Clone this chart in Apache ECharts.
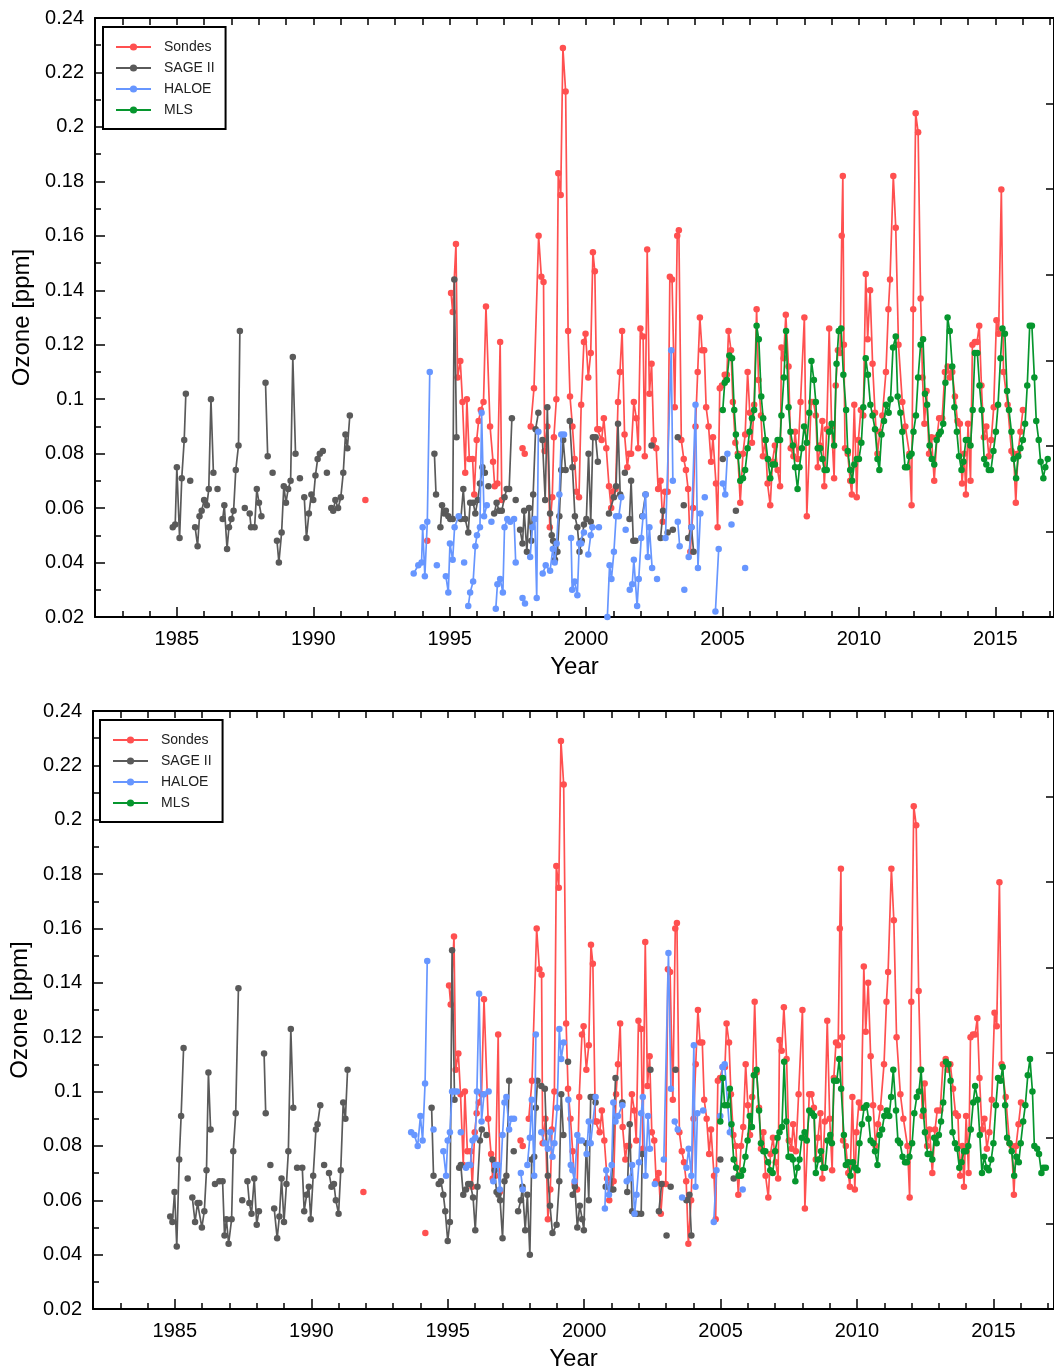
<!DOCTYPE html>
<html>
<head>
<meta charset="utf-8">
<script src="https://cdn.jsdelivr.net/npm/echarts@6/dist/echarts.min.js"></script>
<style>
html,body{margin:0;padding:0;background:#fff;}
#chart{width:1054px;height:1372px;}
</style>
</head>
<body>
<div id="chart"></div>
<script>
// ---------- data (year, ozone ppm); null = gap in the line ----------
const seriesNames = ['Sondes', 'SAGE II', 'HALOE', 'MLS'];
const majorYears = [1985, 1990, 1995, 2000, 2005, 2010, 2015];

const sondes = [
[1991.91,0.063], null,
[1994.18,0.048], null,
[1995.05,0.139],[1995.11,0.132],[1995.23,0.157],[1995.29,0.108],[1995.39,0.114],[1995.47,0.099],[1995.57,0.073],[1995.63,0.100],[1995.72,0.078],[1995.84,0.078],[1995.90,0.065],[1995.99,0.085],[1996.06,0.092],[1996.14,0.096],[1996.24,0.099],[1996.33,0.134],[1996.48,0.090],[1996.59,0.077],[1996.65,0.068],[1996.75,0.069],[1996.85,0.121],[1996.91,0.063], null,
[1997.67,0.082],[1997.75,0.080], null,
[1997.97,0.090],[1998.09,0.104],[1998.26,0.160],[1998.36,0.145],[1998.44,0.143],[1998.48,0.081],[1998.58,0.090],[1998.67,0.053],[1998.76,0.064],[1998.82,0.086],[1998.91,0.100],[1998.98,0.183],[1999.07,0.175],[1999.15,0.229],[1999.25,0.213],[1999.34,0.125],[1999.41,0.101],[1999.50,0.090],[1999.58,0.078],[1999.65,0.066],[1999.74,0.064],[1999.82,0.098],[1999.92,0.121],[1999.98,0.124],[2000.08,0.108],[2000.17,0.117],[2000.25,0.154],[2000.32,0.147],[2000.41,0.089],
[2000.47,0.089],[2000.57,0.085],[2000.65,0.093],[2000.74,0.082],[2000.84,0.068],[2000.92,0.060],[2000.98,0.066],[2001.08,0.067],[2001.17,0.099],[2001.24,0.110],[2001.32,0.125],[2001.41,0.087],[2001.51,0.075],[2001.57,0.080],[2001.65,0.080],[2001.75,0.099],[2001.84,0.093],[2001.91,0.082],[2001.99,0.126],[2002.09,0.123],[2002.15,0.079],[2002.24,0.155],[2002.32,0.102],[2002.40,0.113],[2002.48,0.085],[2002.57,0.082],[2002.64,0.067],[2002.73,0.070],[2002.81,0.055],[2002.89,0.066],[2002.99,0.066],[2003.07,0.145],[2003.15,0.144],[2003.25,0.097],[2003.34,0.160],[2003.40,0.162],[2003.49,0.085],[2003.58,0.078],[2003.66,0.074],[2003.74,0.067],[2003.82,0.044],[2003.92,0.060],[2004.01,0.090],[2004.09,0.110],[2004.17,0.130],[2004.25,0.118],[2004.33,0.118],[2004.40,0.097],[2004.49,0.090],[2004.58,0.077],[2004.65,0.086],[2004.76,0.069],[2004.82,0.053],[2004.90,0.104],[2004.98,0.105],[2005.08,0.109],[2005.16,0.109],[2005.22,0.125],[2005.31,0.118],[2005.38,0.099],[2005.47,0.084],[2005.56,0.080],[2005.65,0.062],[2005.75,0.080],[2005.83,0.087],[2005.92,0.110],[2006.00,0.095],[2006.08,0.084],[2006.16,0.098],[2006.25,0.133],[2006.32,0.107],[2006.41,0.094],[2006.48,0.079],[2006.57,0.085],[2006.65,0.069],[2006.75,0.061],[2006.83,0.077],[2006.92,0.083],[2007.02,0.074],[2007.11,0.068],[2007.16,0.119],[2007.24,0.115],[2007.32,0.131],[2007.42,0.112],[2007.50,0.082],[2007.60,0.079],[2007.66,0.088],[2007.76,0.078],[2007.86,0.099],[2008.00,0.130],[2008.09,0.057],
[2008.25,0.099],[2008.33,0.099],[2008.42,0.094],[2008.49,0.075],[2008.57,0.083],[2008.66,0.092],[2008.73,0.068],[2008.82,0.089],[2008.91,0.126],[2009.00,0.090],[2009.09,0.071],[2009.15,0.105],[2009.23,0.118],[2009.31,0.117],[2009.37,0.160],[2009.41,0.182],[2009.45,0.120],[2009.49,0.082],[2009.59,0.080],[2009.68,0.070],[2009.74,0.065],[2009.83,0.098],[2009.92,0.064],[2009.98,0.085],[2010.07,0.096],[2010.16,0.094],[2010.25,0.146],[2010.32,0.122],[2010.41,0.140],[2010.50,0.113],[2010.59,0.095],[2010.68,0.080],[2010.77,0.088],[2010.86,0.094],[2010.99,0.110],[2011.08,0.133],[2011.14,0.144],[2011.26,0.182],[2011.35,0.163],[2011.45,0.120],[2011.59,0.099],[2011.70,0.090],[2011.85,0.080],[2011.93,0.061],[2011.99,0.133],[2012.08,0.205],[2012.17,0.198],[2012.26,0.137],[2012.33,0.108],[2012.40,0.091],[2012.48,0.103],[2012.57,0.080],[2012.66,0.086],[2012.76,0.070],[2012.86,0.086],[2012.94,0.093],[2013.05,0.093],[2013.15,0.110],[2013.25,0.112],[2013.33,0.108],[2013.42,0.110],[2013.52,0.101],[2013.61,0.092],[2013.70,0.091],[2013.78,0.069],[2013.86,0.080],[2013.92,0.065],[2014.00,0.091],[2014.09,0.070],[2014.16,0.120],[2014.25,0.121],[2014.33,0.121],[2014.41,0.127],[2014.49,0.105],[2014.58,0.086],[2014.67,0.090],[2014.76,0.079],[2014.85,0.085],[2014.94,0.097],[2015.04,0.129],[2015.12,0.124],[2015.22,0.177],[2015.30,0.110],[2015.45,0.098],[2015.59,0.081],[2015.67,0.080],[2015.75,0.062],[2015.83,0.080],[2015.92,0.088],[2016.01,0.096]
];

const sageTop = [
[1984.85,0.053],[1984.94,0.054],[1985.00,0.075],[1985.10,0.049],[1985.18,0.071],[1985.27,0.085],[1985.33,0.102], null,
[1985.49,0.070], null,
[1985.67,0.053],[1985.76,0.046],[1985.83,0.057],[1985.91,0.059],[1986.00,0.063],[1986.10,0.061],[1986.17,0.067],[1986.25,0.100],[1986.34,0.073], null,
[1986.49,0.067], null,
[1986.68,0.056],[1986.74,0.061],[1986.84,0.045],[1986.91,0.053],[1987.00,0.056],[1987.08,0.059],[1987.16,0.074],[1987.26,0.083],[1987.31,0.125], null,
[1987.49,0.060], null,
[1987.67,0.058],[1987.72,0.053],[1987.85,0.053],[1987.93,0.067],[1988.01,0.062],[1988.10,0.057], null,
[1988.25,0.106],[1988.33,0.079], null,
[1988.51,0.073], null,
[1988.67,0.048],[1988.74,0.040],[1988.84,0.051],[1988.92,0.068],[1989.00,0.062],[1989.08,0.067],[1989.17,0.070],[1989.25,0.1155],[1989.35,0.080], null,
[1989.51,0.071], null,
[1989.67,0.064],[1989.75,0.049],[1989.84,0.058],[1989.93,0.065],[1990.00,0.063],[1990.08,0.072],[1990.16,0.078],[1990.24,0.080],[1990.35,0.081], null,
[1990.50,0.073], null,
[1990.66,0.060],[1990.73,0.059],[1990.81,0.063],[1990.91,0.060],[1991.01,0.064],[1991.10,0.073],[1991.18,0.087],[1991.25,0.082],[1991.34,0.094], null,
[1994.44,0.080],[1994.50,0.065], null,
[1994.66,0.053],[1994.72,0.061],[1994.80,0.058],[1994.86,0.059],[1994.95,0.057],[1995.02,0.056],[1995.11,0.056],[1995.17,0.144],[1995.25,0.086], null,
[1995.41,0.056],[1995.50,0.067],[1995.57,0.056],[1995.68,0.051],[1995.75,0.062],[1995.86,0.062],[1995.94,0.058],[1996.03,0.063],[1996.11,0.069],[1996.20,0.075],[1996.29,0.073], null,
[1996.42,0.068], null,
[1996.63,0.058],[1996.72,0.062],[1996.81,0.059],[1996.91,0.059],[1997.01,0.064],[1997.09,0.067],[1997.18,0.067],[1997.28,0.093], null,
[1997.42,0.063], null,
[1997.58,0.052],[1997.67,0.047],[1997.73,0.059],[1997.83,0.044],[1997.91,0.060],[1997.99,0.048],[1998.06,0.065],[1998.15,0.089],[1998.25,0.095], null,
[1998.40,0.085],[1998.50,0.063],[1998.58,0.097],[1998.68,0.058],[1998.74,0.050],[1998.79,0.048],[1998.86,0.041],[1998.95,0.044],[1999.02,0.057],[1999.09,0.074],[1999.16,0.085],[1999.25,0.074], null,
[1999.40,0.092],[1999.50,0.075],[1999.59,0.057],[1999.68,0.053],[1999.76,0.044],[1999.84,0.048],[1999.92,0.054],[2000.01,0.056],[2000.09,0.080],[2000.17,0.055],[2000.25,0.086],[2000.35,0.086],[2000.43,0.077], null,
[2000.84,0.058],[2001.02,0.064],[2001.10,0.068],[2001.17,0.091],[2001.25,0.065], null,
[2001.42,0.073], null,
[2001.59,0.056],[2001.65,0.070],[2001.73,0.048],[2001.81,0.048], null,
[2002.06,0.057],[2002.18,0.065], null,
[2002.40,0.083], null,
[2002.73,0.049],[2002.82,0.059], null,
[2002.99,0.051], null,
[2003.18,0.052], null,
[2003.36,0.086], null,
[2003.58,0.061], null,
[2003.74,0.049],[2003.86,0.053],[2003.94,0.044], null,
[2005.01,0.078], null,
[2005.49,0.059]
];

const haloeTop = [
[1993.68,0.036],[1993.85,0.039],[1993.97,0.040],[1994.01,0.053],[1994.09,0.035],[1994.18,0.055],[1994.27,0.110], null,
[1994.53,0.039], null,
[1994.86,0.035],[1994.95,0.029],[1995.01,0.047],[1995.11,0.041],[1995.18,0.053],[1995.33,0.057], null,
[1995.53,0.040], null,
[1995.68,0.024],[1995.75,0.029],[1995.86,0.033],[1995.94,0.046],[1996.00,0.050],[1996.11,0.053],[1996.17,0.095],[1996.26,0.057],[1996.36,0.061], null,
[1996.53,0.055], null,
[1996.69,0.023],[1996.75,0.032],[1996.85,0.034],[1996.95,0.029],[1997.01,0.053],[1997.11,0.056],[1997.22,0.055],[1997.36,0.056],[1997.42,0.040], null,
[1997.67,0.027],[1997.76,0.025], null,
[1997.95,0.042],[1998.03,0.053],[1998.12,0.056],[1998.19,0.027],[1998.25,0.088], null,
[1998.41,0.036],[1998.52,0.039],[1998.68,0.037],[1998.78,0.045],[1998.85,0.040],[1998.92,0.047],[1999.02,0.065],[1999.09,0.087],[1999.19,0.087], null,
[1999.45,0.049],[1999.49,0.030],[1999.58,0.033],[1999.68,0.028],[1999.75,0.047],[1999.82,0.047],[1999.92,0.051], null,
[2000.08,0.043],[2000.17,0.050],[2000.23,0.053],[2000.47,0.053], null,
[2000.78,0.020],[2000.86,0.039],[2000.93,0.034],[2001.02,0.044],[2001.10,0.057],[2001.20,0.057],[2001.29,0.064], null,
[2001.45,0.052], null,
[2001.60,0.030],[2001.69,0.032],[2001.75,0.041],[2001.87,0.024],[2001.93,0.034],[2002.02,0.049],[2002.09,0.057],[2002.18,0.065],[2002.26,0.042],[2002.32,0.053],[2002.42,0.038], null,
[2002.60,0.034], null,
[2002.91,0.049],[2003.12,0.118],[2003.18,0.070], null,
[2003.36,0.055],[2003.43,0.046], null,
[2003.60,0.030], null,
[2003.76,0.042],[2003.86,0.053],[2004.01,0.098],[2004.10,0.038],[2004.19,0.058], null,
[2004.35,0.064], null,
[2004.74,0.022],[2004.86,0.045], null,
[2005.01,0.069],[2005.10,0.065],[2005.18,0.080], null,
[2005.33,0.054], null,
[2005.83,0.038]
];

const mlsTop = [
[2005.01,0.096],[2005.08,0.106],[2005.16,0.107],[2005.25,0.116],[2005.35,0.115],[2005.43,0.096],[2005.49,0.087],[2005.57,0.079],[2005.65,0.070],[2005.75,0.071],[2005.83,0.074],[2005.92,0.082],[2005.99,0.088],[2006.08,0.093],[2006.16,0.096],[2006.25,0.127],[2006.33,0.122],[2006.42,0.101],[2006.49,0.093],[2006.58,0.085],[2006.66,0.078],[2006.75,0.071],[2006.83,0.076],[2006.92,0.076],[2007.02,0.085],[2007.11,0.085],[2007.16,0.094],[2007.25,0.108],[2007.33,0.125],[2007.42,0.097],[2007.49,0.088],[2007.58,0.083],[2007.66,0.075],[2007.75,0.067],[2007.82,0.075],[2007.91,0.082],[2007.99,0.090],[2008.09,0.084],[2008.18,0.095],[2008.26,0.114],[2008.35,0.107],[2008.42,0.099],[2008.49,0.082],[2008.58,0.082],[2008.66,0.078],[2008.74,0.074],[2008.82,0.074],[2008.91,0.088],[2009.00,0.091],[2009.09,0.083],[2009.18,0.113],[2009.26,0.125],[2009.35,0.126],[2009.43,0.109],[2009.53,0.096],[2009.59,0.081],[2009.68,0.074],[2009.75,0.070],[2009.83,0.076],[2009.92,0.078],[2010.00,0.078],[2010.09,0.084],[2010.16,0.097],[2010.25,0.115],[2010.33,0.109],[2010.42,0.098],[2010.50,0.094],[2010.59,0.089],[2010.68,0.078],[2010.75,0.074],[2010.83,0.087],[2010.92,0.092],[2011.00,0.098],[2011.09,0.095],[2011.16,0.100],[2011.25,0.119],[2011.35,0.123],[2011.42,0.101],[2011.52,0.095],[2011.59,0.088],[2011.69,0.075],[2011.77,0.075],[2011.85,0.079],[2011.93,0.080],[2012.00,0.088],[2012.09,0.094],[2012.17,0.108],[2012.26,0.120],[2012.35,0.122],[2012.42,0.102],[2012.50,0.098],[2012.59,0.083],[2012.67,0.078],[2012.76,0.076],[2012.85,0.085],[2012.93,0.087],[2013.00,0.088],[2013.09,0.091],[2013.17,0.106],[2013.25,0.130],[2013.33,0.125],[2013.42,0.112],[2013.50,0.097],[2013.59,0.088],[2013.67,0.079],[2013.76,0.074],[2013.83,0.077],[2013.92,0.085],[2014.00,0.085],[2014.09,0.083],[2014.17,0.096],[2014.25,0.117],[2014.34,0.117],[2014.42,0.105],[2014.50,0.096],[2014.59,0.078],[2014.67,0.076],[2014.76,0.074],[2014.84,0.074],[2014.93,0.081],[2015.02,0.088],[2015.10,0.098],[2015.19,0.115],[2015.26,0.126],[2015.35,0.124],[2015.43,0.103],[2015.50,0.096],[2015.59,0.088],[2015.67,0.078],[2015.76,0.071],[2015.84,0.079],[2015.92,0.082],[2016.01,0.085],[2016.09,0.091],[2016.17,0.105],[2016.26,0.127],[2016.34,0.127],[2016.43,0.108],[2016.50,0.092],[2016.59,0.085],[2016.66,0.077],[2016.76,0.071],[2016.83,0.075],[2016.92,0.078]
];

const sageBottom = [
[1984.83,0.054],[1984.91,0.052],[1984.99,0.063],[1985.07,0.043],[1985.16,0.075],[1985.23,0.091],[1985.32,0.116], null,
[1985.47,0.068], null,
[1985.64,0.061],[1985.74,0.052],[1985.83,0.059],[1985.90,0.059],[1985.99,0.050],[1986.08,0.056],[1986.16,0.071],[1986.23,0.107],[1986.31,0.086], null,
[1986.47,0.066], null,
[1986.63,0.067],[1986.75,0.067],[1986.82,0.047],[1986.89,0.053],[1986.97,0.044],[1987.08,0.053],[1987.14,0.078],[1987.23,0.092],[1987.33,0.138], null,
[1987.47,0.060], null,
[1987.66,0.067],[1987.73,0.059],[1987.81,0.055],[1987.91,0.068],[1988.00,0.051],[1988.08,0.056], null,
[1988.27,0.114],[1988.33,0.092], null,
[1988.50,0.073], null,
[1988.64,0.057],[1988.75,0.046],[1988.83,0.054],[1988.91,0.068],[1989.00,0.052],[1989.09,0.066],[1989.16,0.078],[1989.25,0.123],[1989.34,0.094], null,
[1989.48,0.072],[1989.67,0.072],[1989.74,0.056],[1989.83,0.062],[1989.91,0.065],[1989.98,0.053],[1990.07,0.069],[1990.17,0.086],[1990.23,0.088],[1990.33,0.095], null,
[1990.47,0.073], null,
[1990.65,0.070],[1990.74,0.065],[1990.83,0.066],[1990.90,0.060],[1991.00,0.055],[1991.08,0.071],[1991.17,0.096],[1991.25,0.090],[1991.33,0.108], null,
[1994.41,0.094],[1994.48,0.069], null,
[1994.67,0.066],[1994.75,0.067],[1994.84,0.062],[1994.91,0.056],[1995.00,0.045],[1995.08,0.052],[1995.16,0.152],[1995.25,0.097], null,
[1995.42,0.072],[1995.48,0.073],[1995.57,0.062],[1995.67,0.064],[1995.75,0.066],[1995.83,0.066],[1995.93,0.061],[1996.01,0.049],[1996.09,0.065],[1996.18,0.082],[1996.25,0.086], null,
[1996.42,0.084], null,
[1996.64,0.075],[1996.72,0.071],[1996.79,0.063],[1996.86,0.062],[1996.92,0.060],[1997.01,0.046],[1997.08,0.067],[1997.15,0.069],[1997.25,0.104], null,
[1997.42,0.078], null,
[1997.58,0.056],[1997.68,0.060],[1997.74,0.065],[1997.84,0.049],[1997.92,0.062],[1998.01,0.040],[1998.08,0.075],[1998.17,0.076],[1998.23,0.094],[1998.29,0.104], null,
[1998.43,0.102],[1998.56,0.101],[1998.67,0.069],[1998.75,0.058],[1998.84,0.048],[1998.99,0.051],[1999.09,0.067],[1999.16,0.099],[1999.24,0.084], null,
[1999.41,0.111], null,
[1999.58,0.062],[1999.66,0.065],[1999.75,0.050],[1999.84,0.058],[1999.93,0.053],[1999.99,0.049],[2000.08,0.081],[2000.17,0.060],[2000.24,0.098],[2000.33,0.098],[2000.42,0.096], null,
[2000.79,0.065],[2001.00,0.064],[2001.07,0.064],[2001.15,0.105], null,
[2001.40,0.096], null,
[2001.58,0.063],[2001.67,0.088],[2001.76,0.056],[2001.85,0.055],[2001.95,0.055],[2002.09,0.055],[2002.13,0.077], null,
[2002.43,0.108], null,
[2002.74,0.056],[2002.84,0.066], null,
[2003.02,0.047], null,
[2003.17,0.065], null,
[2003.35,0.108], null,
[2003.75,0.060],[2003.86,0.062],[2003.93,0.047], null,
[2004.99,0.075], null,
[2005.48,0.068]
];

const haloeBottom = [
[1993.66,0.085],[1993.78,0.084],[1993.90,0.080],[1994.00,0.091],[1994.08,0.082],[1994.17,0.103],[1994.25,0.148], null,
[1994.48,0.086], null,
[1994.84,0.078],[1994.94,0.069],[1995.00,0.082],[1995.08,0.085],[1995.16,0.100],[1995.25,0.100],[1995.34,0.100], null,
[1995.48,0.085], null,
[1995.67,0.072],[1995.75,0.073],[1995.83,0.073],[1995.91,0.082],[1996.01,0.083],[1996.07,0.100],[1996.15,0.136],[1996.24,0.089],[1996.33,0.099],[1996.50,0.100], null,
[1996.67,0.067],[1996.74,0.073],[1996.83,0.073],[1996.91,0.064],[1997.01,0.084],[1997.08,0.096],[1997.15,0.098],[1997.25,0.086],[1997.33,0.090],[1997.43,0.090], null,
[1997.68,0.070],[1997.75,0.064], null,
[1997.92,0.073],[1998.01,0.083],[1998.08,0.097],[1998.17,0.069],[1998.23,0.121], null,
[1998.43,0.085],[1998.56,0.081],[1998.67,0.079],[1998.75,0.085],[1998.84,0.076],[1998.91,0.081],[1999.01,0.094],[1999.09,0.123],[1999.16,0.112],[1999.25,0.118], null,
[1999.42,0.097],[1999.51,0.073],[1999.57,0.071],[1999.65,0.067],[1999.75,0.084],[1999.82,0.082],[1999.92,0.082], null,
[2000.09,0.077],[2000.17,0.089],[2000.24,0.081],[2000.42,0.098], null,
[2000.76,0.057],[2000.81,0.071],[2000.91,0.062],[2001.01,0.073],[2001.07,0.096],[2001.15,0.089],[2001.24,0.091],[2001.40,0.095], null,
[2001.56,0.067],[2001.67,0.068],[2001.76,0.073],[2001.85,0.055],[2001.92,0.062],[2002.01,0.074],[2002.09,0.092],[2002.15,0.098],[2002.25,0.069],[2002.34,0.091],[2002.41,0.079], null,
[2002.59,0.066], null,
[2002.92,0.075],[2003.09,0.151],[2003.18,0.101], null,
[2003.32,0.089],[2003.43,0.086], null,
[2003.59,0.061], null,
[2003.75,0.072],[2003.83,0.079],[2003.93,0.069],[2004.02,0.117],[2004.08,0.065],[2004.15,0.092], null,
[2004.36,0.093], null,
[2004.75,0.052],[2004.85,0.071], null,
[2004.99,0.091],[2005.07,0.109],[2005.15,0.110],[2005.34,0.085], null,
[2005.81,0.064]
];

const mlsBottom = [
[2004.99,0.089],[2005.08,0.105],[2005.15,0.095],[2005.25,0.095],[2005.34,0.101],[2005.40,0.088],[2005.48,0.075],[2005.57,0.072],[2005.66,0.069],[2005.75,0.069],[2005.82,0.071],[2005.91,0.076],[2005.99,0.082],[2006.07,0.091],[2006.15,0.087],[2006.22,0.106],[2006.32,0.108],[2006.41,0.093],[2006.48,0.081],[2006.57,0.078],[2006.64,0.078],[2006.74,0.074],[2006.82,0.071],[2006.91,0.070],[2007.00,0.078],[2007.09,0.083],[2007.16,0.085],[2007.25,0.087],[2007.33,0.111],[2007.41,0.089],[2007.49,0.076],[2007.58,0.076],[2007.65,0.075],[2007.74,0.067],[2007.82,0.072],[2007.89,0.075],[2007.98,0.083],[2008.08,0.085],[2008.16,0.082],[2008.25,0.093],[2008.35,0.092],[2008.43,0.091],[2008.49,0.070],[2008.59,0.075],[2008.68,0.078],[2008.75,0.072],[2008.83,0.072],[2008.92,0.082],[2009.02,0.084],[2009.08,0.081],[2009.16,0.104],[2009.26,0.104],[2009.35,0.112],[2009.42,0.101],[2009.52,0.084],[2009.59,0.073],[2009.68,0.074],[2009.76,0.069],[2009.85,0.074],[2009.93,0.072],[2010.02,0.071],[2010.09,0.081],[2010.18,0.088],[2010.26,0.094],[2010.35,0.095],[2010.42,0.090],[2010.50,0.082],[2010.60,0.081],[2010.66,0.078],[2010.75,0.073],[2010.83,0.084],[2010.92,0.086],[2011.00,0.091],[2011.09,0.093],[2011.18,0.091],[2011.25,0.098],[2011.33,0.108],[2011.43,0.093],[2011.50,0.082],[2011.58,0.081],[2011.67,0.076],[2011.76,0.074],[2011.83,0.074],[2011.92,0.076],[2012.02,0.081],[2012.10,0.092],[2012.19,0.098],[2012.27,0.100],[2012.35,0.108],[2012.43,0.093],[2012.49,0.085],[2012.59,0.077],[2012.67,0.077],[2012.76,0.075],[2012.83,0.083],[2012.92,0.081],[2013.00,0.084],[2013.08,0.089],[2013.16,0.096],[2013.26,0.111],[2013.35,0.110],[2013.43,0.104],[2013.50,0.085],[2013.59,0.081],[2013.67,0.079],[2013.75,0.072],[2013.83,0.074],[2013.92,0.078],[2014.00,0.078],[2014.08,0.080],[2014.17,0.086],[2014.26,0.096],[2014.33,0.102],[2014.42,0.097],[2014.50,0.084],[2014.58,0.070],[2014.66,0.076],[2014.75,0.072],[2014.83,0.071],[2014.92,0.075],[2015.00,0.081],[2015.09,0.095],[2015.17,0.105],[2015.26,0.104],[2015.34,0.109],[2015.43,0.095],[2015.50,0.083],[2015.59,0.081],[2015.67,0.078],[2015.76,0.069],[2015.84,0.076],[2015.93,0.074],[2016.00,0.081],[2016.09,0.089],[2016.17,0.095],[2016.26,0.106],[2016.34,0.112],[2016.43,0.100],[2016.50,0.080],[2016.60,0.079],[2016.67,0.077],[2016.76,0.070],[2016.83,0.072],[2016.92,0.072]
];

// ---------- chart ----------
const colors = {'Sondes':'#ff5050','SAGE II':'#5a5a5a','HALOE':'#6796ff','MLS':'#06962e'};
const FONT = '"Liberation Sans", Arial, Helvetica, sans-serif';
const X_MIN = 1982;
const allYears = [];
for (let y = 1983; y <= 2017; y++) allYears.push(y);

const prep = arr => arr.map(p => p === null ? ['-', '-'] : p);

const panels = [
  {grid:{left:95, top:18, width:961, height:599}, xMax:2017.15, legendPos:{left:103, top:27}},
  {grid:{left:93, top:711, width:963, height:599}, xMax:2017.22, legendPos:{left:100, top:720}}
];
const panelData = [
  {'Sondes':sondes, 'SAGE II':sageTop, 'HALOE':haloeTop, 'MLS':mlsTop},
  {'Sondes':sondes, 'SAGE II':sageBottom, 'HALOE':haloeBottom, 'MLS':mlsBottom}
];

const option = {
  animation:false,
  backgroundColor:'#fff',
  textStyle:{fontFamily:FONT},
  grid:[], xAxis:[], yAxis:[], series:[], legend:[]
};

panels.forEach((p, i) => {
  option.grid.push(Object.assign({containLabel:false}, p.grid));
  const lineStyle = {color:'#000', width:2};
  // bottom axis with major ticks and labels
  option.xAxis.push({
    type:'value', gridIndex:i, position:'bottom', min:X_MIN, max:p.xMax,
    name:'Year', nameLocation:'middle', nameGap:38,
    nameTextStyle:{fontSize:24, color:'#000', fontFamily:FONT},
    axisLine:{show:true, onZero:false, lineStyle},
    axisTick:{show:true, inside:true, length:10, customValues:majorYears, lineStyle:{color:'#000', width:1.5}},
    axisLabel:{show:true, customValues:majorYears, fontSize:20, color:'#000', margin:12, fontFamily:FONT,
      formatter: v => String(Math.round(v))},
    splitLine:{show:false}
  });
  // bottom axis minor (every year)
  option.xAxis.push({
    type:'value', gridIndex:i, position:'bottom', min:X_MIN, max:p.xMax, interval:1,
    axisLine:{show:false}, axisLabel:{show:false}, splitLine:{show:false},
    axisTick:{show:true, inside:true, length:6, lineStyle:{color:'#000', width:1.5}}
  });
  // top frame axis
  option.xAxis.push({
    type:'value', gridIndex:i, position:'top', min:X_MIN, max:p.xMax,
    axisLine:{show:true, onZero:false, lineStyle}, axisLabel:{show:false}, splitLine:{show:false},
    axisTick:{show:true, inside:true, length:7, customValues:allYears, lineStyle:{color:'#000', width:1.5}}
  });
  // left y axis
  option.yAxis.push({
    type:'value', gridIndex:i, position:'left', min:0.02, max:0.24, interval:0.02,
    name:'Ozone [ppm]', nameLocation:'middle', nameGap:60,
    nameTextStyle:{fontSize:24, color:'#000', fontFamily:FONT},
    axisLine:{show:true, onZero:false, lineStyle},
    axisTick:{show:true, inside:true, length:10, lineStyle:{color:'#000', width:1.5}},
    minorTick:{show:true, splitNumber:2, length:6, lineStyle:{color:'#000', width:1.5}},
    axisLabel:{fontSize:20, color:'#000', margin:11, fontFamily:FONT,
      formatter: v => String(parseFloat(v.toFixed(2)))},
    splitLine:{show:false}
  });
  // right frame axis
  option.yAxis.push({
    type:'value', gridIndex:i, position:'right', min:0, max:7, interval:1,
    axisLine:{show:true, onZero:false, lineStyle},
    axisTick:{show:true, inside:true, length:8, lineStyle:{color:'#000', width:1.5}},
    axisLabel:{show:false}, splitLine:{show:false}
  });
  option.legend.push({
    orient:'vertical', left:p.legendPos.left, top:p.legendPos.top,
    data:seriesNames.slice(),
    backgroundColor:'#fff', borderColor:'#000', borderWidth:2, borderRadius:0,
    padding:[13, 11, 12, 12], itemGap:7, itemWidth:35, itemHeight:9,
    textStyle:{fontSize:14, color:'#222', fontFamily:FONT, lineHeight:14, padding:[0,0,0,8]},
    selectedMode:false
  });
  seriesNames.forEach(name => {
    option.series.push({
      name, type:'line', xAxisIndex:i*3, yAxisIndex:i*2,
      data:prep(panelData[i][name]),
      connectNulls:false, showAllSymbol:true,
      symbol:'circle', symbolSize:6.5,
      lineStyle:{width:1.7, color:colors[name]},
      itemStyle:{color:colors[name]},
      emphasis:{disabled:true},
      z: 2 + seriesNames.indexOf(name)
    });
  });
});

const chart = echarts.init(document.getElementById('chart'), null, {renderer:'canvas'});
chart.setOption(option);
</script>
</body>
</html>
